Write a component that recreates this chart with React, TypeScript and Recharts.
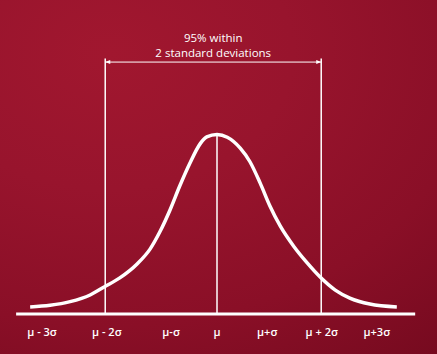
import { ComposedChart, Line, XAxis, YAxis, ReferenceLine } from "recharts";

// curve: x in sigma units, y relative to peak height
const curveX = [-3.46, -3.09, -2.72, -2.35, -2.09, -1.8, -1.48, -1.24, -1.06, -0.87, -0.69, -0.5, -0.31, -0.19, 0, 0.19, 0.43, 0.61, 0.8, 0.98, 1.17, 1.43, 1.67, 1.91, 2.19, 2.46, 2.83, 3.33];
const curveY = [0.039, 0.048, 0.068, 0.105, 0.149, 0.199, 0.276, 0.358, 0.452, 0.574, 0.706, 0.833, 0.94, 0.977, 0.99, 0.975, 0.915, 0.84, 0.722, 0.596, 0.486, 0.37, 0.282, 0.204, 0.132, 0.088, 0.055, 0.039];

const tickValues = [-3.24, -2.04, -0.85, 0, 0.93, 1.94, 2.96];
const tickLabels = ["μ - 3σ", "μ - 2σ", "μ-σ", "μ", "μ+σ", "μ + 2σ", "μ+3σ"];

const bandEdges = [-2.07, 1.93]; // the two 2σ guide lines
const bandTop = 1.41;
const arrowY = 1.39;
const peakY = 0.99;
const axisRange = [-3.72, 3.67];
const annotation = ["95% within", "2 standard deviations"];

const data = curveX.map((x, i) => ({ x, y: curveY[i] }));

const FONT = "'Open Sans', 'DejaVu Sans', sans-serif";

function ArrowShape(props: any) {
  const { x1, y1, x2 } = props;
  const y = y1;
  const mid = (x1 + x2) / 2;
  const head = 5;
  return (
    <g>
      <line x1={x1} y1={y} x2={x2} y2={y} stroke="#fff" strokeWidth={1} />
      <polygon points={`${x1},${y} ${x1 + head},${y - 2} ${x1 + head},${y + 2}`} fill="#fff" />
      <polygon points={`${x2},${y} ${x2 - head},${y - 2} ${x2 - head},${y + 2}`} fill="#fff" />
      <text x={mid} y={y - 20} textAnchor="middle" fill="#fff" fontSize={11.5} fontFamily={FONT}>
        {annotation[0]}
      </text>
      <text x={mid} y={y - 5} textAnchor="middle" fill="#fff" fontSize={11.5} fontFamily={FONT}>
        {annotation[1]}
      </text>
    </g>
  );
}

export default function App() {
  return (
    <div
      style={{
        width: 437,
        height: 354,
        background:
          "radial-gradient(ellipse 120% 110% at 25% 15%, #a1172f 0%, #98142d 35%, #8a0f27 70%, #760a1f 100%)",
      }}
    >
      <style>{`body{margin:0}`}</style>
      <ComposedChart
        width={437}
        height={354}
        data={data}
        margin={{ top: 24, right: 4, bottom: 0, left: 1 }}
      >
        <XAxis
          dataKey="x"
          type="number"
          domain={[-4, 4]}
          ticks={tickValues}
          tickFormatter={(v: number) => tickLabels[tickValues.indexOf(v)] ?? ""}
          axisLine={false}
          tickLine={false}
          height={40}
          tickMargin={8}
          interval={0}
          tick={{ fill: "#fff", fontSize: 11, fontWeight: 600, fontFamily: FONT }}
        />
        <YAxis type="number" domain={[0, 1.6]} hide />
        <ReferenceLine
          segment={[{ x: axisRange[0], y: 0 }, { x: axisRange[1], y: 0 }]}
          stroke="#fff"
          strokeWidth={3}
        />
        {bandEdges.map((bx) => (
          <ReferenceLine
            key={bx}
            segment={[{ x: bx, y: 0 }, { x: bx, y: bandTop }]}
            stroke="#fff"
            strokeWidth={1.5}
          />
        ))}
        <ReferenceLine
          segment={[{ x: 0, y: 0 }, { x: 0, y: peakY }]}
          stroke="#fff"
          strokeWidth={1.5}
        />
        <ReferenceLine
          segment={[{ x: bandEdges[0], y: arrowY }, { x: bandEdges[1], y: arrowY }]}
          shape={ArrowShape}
        />
        <Line
          dataKey="y"
          type="monotone"
          stroke="#fff"
          strokeWidth={3.5}
          dot={false}
          isAnimationActive={false}
        />
      </ComposedChart>
    </div>
  );
}
